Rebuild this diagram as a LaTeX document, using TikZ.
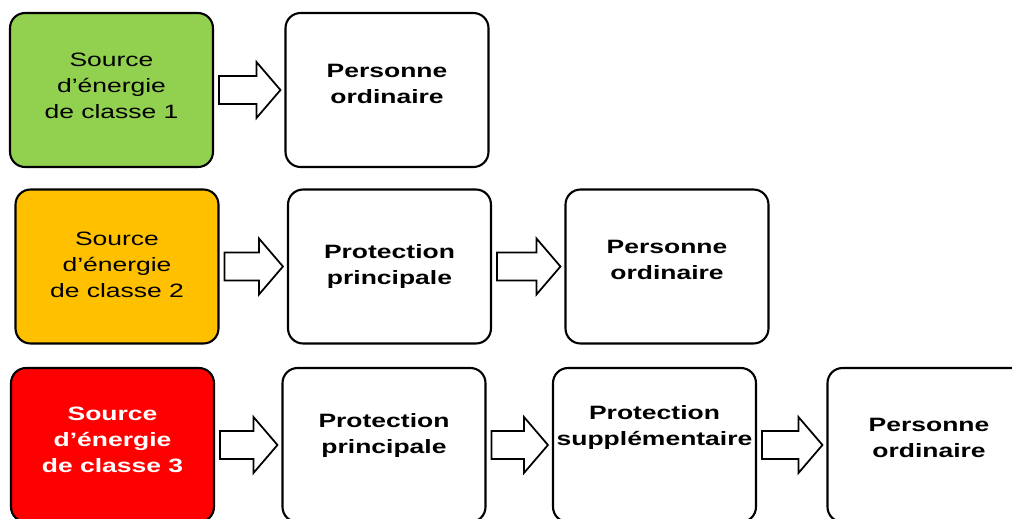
\documentclass[tikz,border=0pt]{standalone}
\usepackage{fontspec}
\setmainfont[FakeStretch=1.37]{Liberation Sans}
\usetikzlibrary{calc}
\definecolor{classeun}{HTML}{92D050}
\definecolor{classedeux}{HTML}{FFC000}
\definecolor{classetrois}{HTML}{FF0000}
\tikzset{
  box/.style={draw=black, line width=1.2pt, rounded corners=0.3cm,
    minimum width=4.06cm, minimum height=3.08cm, fill=white},
  boxtext/.style={align=center, inner sep=0pt, font=\fontsize{11pt}{14.8pt}\selectfont},
  flowarr/.style={draw=black, line width=1pt, fill=white, line join=miter}
}
% fleche bloc entre deux cases
\newcommand{\flowarrow}[2]{%
  \draw[flowarr] ($(#1.east)+(5,14)$) -- ($(#2.west)+(-28,14)$)
    -- ($(#2.west)+(-28,28)$) -- ($(#2.west)+(-4,0)$)
    -- ($(#2.west)+(-28,-28)$) -- ($(#2.west)+(-28,-14)$)
    -- ($(#1.east)+(5,-14)$) -- cycle;}

\begin{document}
\begin{tikzpicture}[x=0.02cm, y=-0.02cm]
  \clip (0,0) rectangle (1012,518);

  % Classe 1
  \node[box, fill=classeun] (s1) at (111.5,90) {};
  \node[box] (p1) at (387,90) {};
  \node[boxtext] (s1t) at ($(s1)+(0,-4)$) {Source\\d’énergie\\de classe 1};
  \node[boxtext, font=\fontsize{11pt}{14.8pt}\selectfont\bfseries] (p1t) at ($(p1)+(0,-6)$) {Personne\\ordinaire};
  \flowarrow{s1}{p1}

  % Classe 2
  \node[box, fill=classedeux] (s2) at (117,266.5) {};
  \node[box] (b2) at (389.5,266.5) {};
  \node[box] (p2) at (667,266.5) {};
  \node[boxtext] (s2t) at ($(s2)+(0,-1.5)$) {Source\\d’énergie\\de classe 2};
  \node[boxtext, font=\fontsize{11pt}{14.8pt}\selectfont\bfseries] (b2t) at (b2) {Protection\\principale};
  \node[boxtext, font=\fontsize{11pt}{14.8pt}\selectfont\bfseries] (p2t) at ($(p2)+(0,-6.5)$) {Personne\\ordinaire};
  \flowarrow{s2}{b2}
  \flowarrow{b2}{p2}

  % Classe 3
  \node[box, fill=classetrois] (s3) at (112.5,445) {};
  \node[box] (b3) at (384,445) {};
  \node[box] (e3) at (654.5,445) {};
  \node[box] (p3) at (929,445) {};
  \node[boxtext, text=white, font=\fontsize{11pt}{14.8pt}\selectfont\bfseries] (s3t) at ($(s3)+(0,-5)$) {Source\\d’énergie\\de classe 3};
  \node[boxtext, font=\fontsize{11pt}{14.8pt}\selectfont\bfseries] (b3t) at ($(b3)+(0,-10)$) {Protection\\principale};
  \node[boxtext, font=\fontsize{11pt}{14.8pt}\selectfont\bfseries] (e3t) at ($(e3)+(0,-18)$) {Protection\\supplémentaire};
  \node[boxtext, font=\fontsize{11pt}{14.8pt}\selectfont\bfseries] (p3t) at ($(p3)+(0,-7)$) {Personne\\ordinaire};
  \flowarrow{s3}{b3}
  \flowarrow{b3}{e3}
  \flowarrow{e3}{p3}
\end{tikzpicture}
\end{document}
